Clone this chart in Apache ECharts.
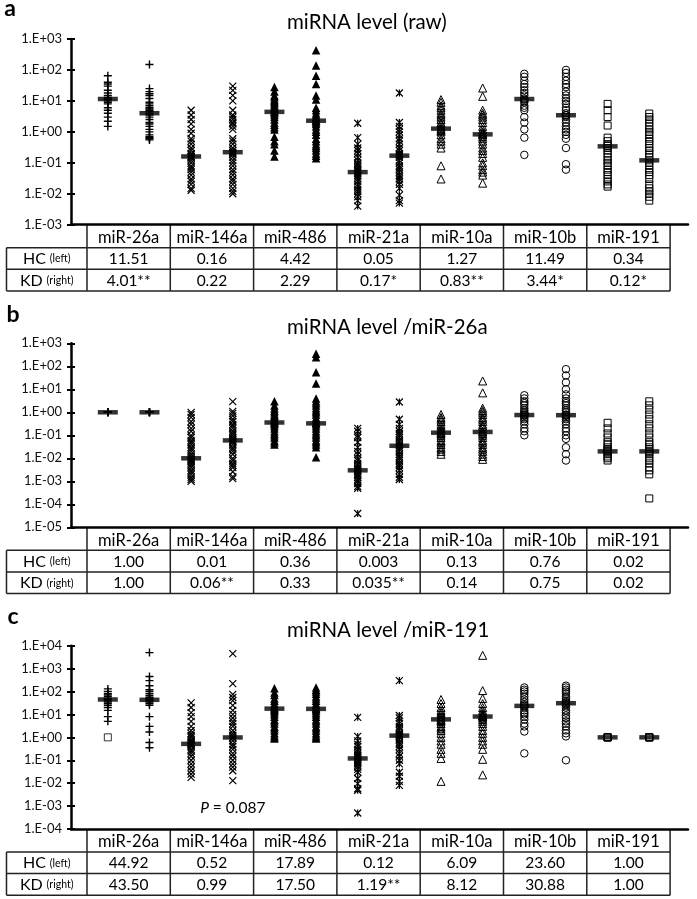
<!DOCTYPE html>
<html><head><meta charset="utf-8">
<script src="https://cdn.jsdelivr.net/npm/echarts@6/dist/echarts.min.js"></script>
<style>html,body{margin:0;padding:0;background:#fff}#c{width:697px;height:899px}</style>
</head><body><div id="c"></div>
<script>
const categories = ['miR-26a','miR-146a','miR-486','miR-21a','miR-10a','miR-10b','miR-191'];

// ---- panel a: raw ----
const raw_26a_HC = [65,40,35,30,22,18,15,13,12,11.5,11,10,9,8,6,5,4,3,2.2,1.5];
const raw_26a_KD = [150,25,20,17,15,12,9,8,7,6,5.5,5,4.5,4,3.8,3.5,3,2.5,2,1.8,1.5,1.2,1,0.8,0.7,0.65,0.6,0.55];
const raw_146a_HC = [5,3.5,2.5,1.8,1.2,0.9,0.6,0.5,0.4,0.3,0.25,0.2,0.18,0.16,0.15,0.14,0.12,0.1,0.08,0.07,0.06,0.05,0.04,0.03,0.025,0.02,0.015,0.013];
const raw_146a_KD = [30,22,15,10,5,3.5,3,2.5,2,1.8,1.5,1.2,0.6,0.5,0.4,0.3,0.25,0.22,0.2,0.18,0.15,0.12,0.1,0.08,0.06,0.05,0.04,0.03,0.025,0.02,0.015,0.012,0.01];
const raw_486_HC = [28,20,15,13,11,10,9,8,7,6,5.5,5,4.5,4.4,4,3.5,3,2.5,2,1.7,1.4,1.2,0.7,0.5,0.4,0.25,0.16];
const raw_486_KD = [430,140,65,35,15,11,6,5,4,3.5,3,2.8,2.5,2.3,2.2,2,1.8,1.5,1.2,1,0.8,0.6,0.5,0.4,0.35,0.3,0.25,0.2,0.17,0.14];
const raw_21a_HC = [1.9,0.65,0.4,0.3,0.25,0.2,0.15,0.12,0.1,0.09,0.08,0.07,0.06,0.055,0.05,0.045,0.04,0.035,0.03,0.025,0.02,0.017,0.014,0.012,0.01,0.008,0.006,0.004];
const raw_21a_KD = [18,2,1.5,1.2,1,0.8,0.6,0.5,0.4,0.3,0.25,0.2,0.18,0.17,0.15,0.12,0.1,0.08,0.07,0.06,0.05,0.04,0.035,0.03,0.025,0.02,0.015,0.009,0.006,0.005];
const raw_10a_HC = [11,9,7,6,5,4,3.5,3,2.5,2,1.8,1.5,1.3,1.2,1.1,1,0.8,0.6,0.5,0.4,0.3,0.08,0.03];
const raw_10a_KD = [26,14,5,4,3.5,3,2.5,2,1.5,1.2,1,0.9,0.85,0.8,0.7,0.6,0.5,0.4,0.3,0.25,0.2,0.15,0.1,0.08,0.06,0.05,0.04,0.022];
const raw_10b_HC = [75,60,45,35,28,22,18,15,12,11,10,9,7,6,5,3,2,1.2,0.65,0.18];
const raw_10b_KD = [100,80,60,45,35,28,20,15,12,10,8,6,5,4,3.5,3.4,3,2.5,2,1.5,1.2,1,0.8,0.6,0.3,0.09,0.06];
const raw_191_HC = [8,5,3,1.6,0.65,0.5,0.4,0.35,0.3,0.25,0.2,0.15,0.12,0.1,0.08,0.06,0.05,0.04,0.03,0.025,0.02,0.017];
const raw_191_KD = [3.9,3,2.5,2,1.5,1.2,1,0.8,0.6,0.5,0.4,0.3,0.25,0.2,0.15,0.12,0.1,0.08,0.06,0.05,0.04,0.03,0.02,0.015,0.012,0.01,0.008,0.006];
const raw_medHC = [11.51,0.16,4.42,0.05,1.27,11.49,0.34];
const raw_medKD = [4.01,0.22,2.29,0.17,0.83,3.44,0.12];
const raw_txtHC = ['11.51','0.16','4.42','0.05','1.27','11.49','0.34'];
const raw_txtKD = ['4.01**','0.22','2.29','0.17*','0.83**','3.44*','0.12*'];

// ---- panel b: /miR-26a ----
const n26_26a_HC = [1,1,1,1,1];
const n26_26a_KD = [1,1,1,1,1];
const n26_146a_HC = [1,0.8,0.6,0.4,0.3,0.2,0.15,0.1,0.08,0.06,0.05,0.04,0.03,0.025,0.02,0.015,0.012,0.01,0.009,0.008,0.007,0.006,0.005,0.004,0.003,0.0025,0.002,0.0015,0.0012,0.001];
const n26_146a_KD = [2.9,1.1,0.9,0.7,0.5,0.4,0.3,0.25,0.2,0.15,0.12,0.1,0.08,0.07,0.06,0.055,0.05,0.04,0.03,0.025,0.02,0.015,0.01,0.008,0.006,0.005,0.004,0.0026,0.0016,0.0013];
const n26_486_HC = [3,2,1.5,1.2,1,0.8,0.7,0.6,0.5,0.45,0.4,0.36,0.33,0.3,0.25,0.2,0.15,0.12,0.1,0.08,0.06,0.05,0.04];
const n26_486_KD = [350,250,55,18,4,3,2.5,2,1.5,1.2,1,0.8,0.6,0.5,0.4,0.35,0.33,0.3,0.25,0.2,0.15,0.12,0.1,0.08,0.06,0.05,0.04,0.03,0.011];
const n26_21a_HC = [0.2,0.15,0.1,0.08,0.05,0.03,0.02,0.015,0.01,0.008,0.006,0.005,0.004,0.0035,0.003,0.0028,0.0025,0.002,0.0018,0.0015,0.0012,0.001,0.0008,0.0006,0.0005,0.00004];
const n26_21a_KD = [2.8,0.5,0.3,0.2,0.15,0.12,0.1,0.08,0.06,0.05,0.04,0.035,0.03,0.025,0.02,0.015,0.012,0.01,0.008,0.006,0.005,0.004,0.003,0.002,0.0015,0.0012];
const n26_10a_HC = [0.8,0.6,0.5,0.4,0.3,0.25,0.2,0.17,0.15,0.13,0.12,0.1,0.08,0.06,0.05,0.04,0.03,0.025,0.02,0.015];
const n26_10a_KD = [23,7,1.5,1.2,1,0.8,0.6,0.5,0.4,0.3,0.25,0.2,0.15,0.14,0.12,0.1,0.08,0.06,0.05,0.04,0.03,0.025,0.02,0.015,0.012,0.009];
const n26_10b_HC = [5.5,4,3,2.5,2,1.5,1.2,1,0.9,0.8,0.76,0.7,0.6,0.5,0.4,0.3,0.2,0.15,0.1];
const n26_10b_KD = [75,40,20,10,6,4,3,2.5,2,1.5,1.2,1,0.8,0.75,0.7,0.6,0.5,0.4,0.3,0.2,0.15,0.1,0.07,0.03,0.015,0.008];
const n26_191_HC = [0.35,0.2,0.12,0.08,0.05,0.04,0.03,0.025,0.022,0.02,0.018,0.015,0.012,0.01,0.008];
const n26_191_KD = [3,2,1.3,0.8,0.5,0.3,0.2,0.12,0.08,0.05,0.04,0.03,0.025,0.02,0.018,0.015,0.01,0.008,0.006,0.004,0.003,0.002,0.00018];
const n26_medHC = [1.00,0.01,0.36,0.003,0.13,0.76,0.02];
const n26_medKD = [1.00,0.06,0.33,0.035,0.14,0.75,0.02];
const n26_txtHC = ['1.00','0.01','0.36','0.003','0.13','0.76','0.02'];
const n26_txtKD = ['1.00','0.06**','0.33','0.035**','0.14','0.75','0.02'];

// ---- panel c: /miR-191 ----
const n191_26a_HC = [130,100,80,70,60,50,45,40,35,30,25,20,15,8,5];
const n191_26a_HC_square = [1.0];
const n191_26a_KD = [5000,450,300,180,120,100,80,65,55,50,45,43,40,35,30,25,8,3,1.7,0.6,0.35];
const n191_146a_HC = [32,20,12,8,5,3,2,1.5,1.2,1,0.8,0.7,0.6,0.55,0.5,0.45,0.4,0.3,0.25,0.2,0.15,0.1,0.07,0.05,0.035,0.025,0.018];
const n191_146a_KD = [4500,220,75,55,40,25,15,10,7,5,4,3,2,1.5,1.2,1,0.9,0.7,0.5,0.4,0.3,0.2,0.15,0.1,0.07,0.05,0.035,0.013];
const n191_486_HC = [140,90,70,50,40,30,25,20,18,16,14,12,10,8,6,5,4,3,2.5,2,1.5,1.2,1,0.9];
const n191_486_KD = [150,120,100,80,60,50,40,30,25,20,18,17,15,12,10,8,6,5,4,3,2.5,2,1.5,1.2,1,0.9];
const n191_21a_HC = [7.5,1.1,0.7,0.5,0.4,0.3,0.25,0.2,0.17,0.15,0.13,0.12,0.11,0.1,0.09,0.08,0.07,0.06,0.05,0.04,0.03,0.016,0.0095,0.0057,0.0049,0.0005];
const n191_21a_KD = [300,9,7,5,4,3,2.5,2,1.5,1.3,1.2,1.1,1,0.8,0.6,0.5,0.4,0.3,0.2,0.15,0.1,0.07,0.03,0.02,0.012,0.008];
const n191_10a_HC = [45,30,20,15,12,10,8,7,6,5.5,5,4,3,2.5,2,1.5,1,0.7,0.5,0.3,0.2,0.12,0.012];
const n191_10a_KD = [3800,110,50,30,20,15,12,10,9,8.5,8,7,6,5,4,3,2,1.5,1,0.7,0.5,0.3,0.11,0.023];
const n191_10b_HC = [150,120,100,80,60,45,35,28,25,23,20,15,12,10,8,6,4,3,1.8,0.2];
const n191_10b_KD = [180,150,120,100,80,60,50,40,35,31,28,25,20,15,12,9,7,5,4,3,2,1.5,1.1,0.1];
const n191_191_HC = [1,1,1,1];
const n191_191_KD = [1,1,1,1];
const n191_medHC = [44.92,0.52,17.89,0.12,6.09,23.60,1.00];
const n191_medKD = [43.50,0.99,17.50,1.19,8.12,30.88,1.00];
const n191_txtHC = ['44.92','0.52','17.89','0.12','6.09','23.60','1.00'];
const n191_txtKD = ['43.50','0.99','17.50','1.19**','8.12','30.88','1.00'];

const panelLetters = ['a','b','c'];
const panelTitles = ['miRNA level (raw)','miRNA level /miR-26a','miRNA level /miR-191'];
const yMins = [1e-3, 1e-5, 1e-4];
const yMaxs = [1e3, 1e3, 1e4];

// ---- layout / style ----
const FONT = 'Lato, "Open Sans", sans-serif';
const gridBoxes = [
  {top: 39, height: 185.7},
  {top: 343.3, height: 184},
  {top: 645.7, height: 183.3}
];
const letterY = [9, 314.5, 617];
const titleY = [22, 327, 630.5];
const X_MIN = 0.116, X_MAX = 14.93;
const markers = [
  {symbol: 'path://M5 0V10M0 5H10', size: 8, fill: 'none', bw: 1.4},
  {symbol: 'path://M0 0L10 10M10 0L0 10', size: 7, fill: 'none', bw: 1.2},
  {symbol: 'triangle', size: 8.5, fill: '#000', bw: 0},
  {symbol: 'path://M0 0L10 10M10 0L0 10M5 0V10', size: 7, fill: 'none', bw: 1.2},
  {symbol: 'triangle', size: 8, fill: 'none', bw: 1},
  {symbol: 'circle', size: 7.5, fill: 'none', bw: 1},
  {symbol: 'rect', size: 7, fill: 'none', bw: 1}
];

const panels = [
  {groups: [[raw_26a_HC,raw_26a_KD],[raw_146a_HC,raw_146a_KD],[raw_486_HC,raw_486_KD],[raw_21a_HC,raw_21a_KD],[raw_10a_HC,raw_10a_KD],[raw_10b_HC,raw_10b_KD],[raw_191_HC,raw_191_KD]],
   medHC: raw_medHC, medKD: raw_medKD, txtHC: raw_txtHC, txtKD: raw_txtKD},
  {groups: [[n26_26a_HC,n26_26a_KD],[n26_146a_HC,n26_146a_KD],[n26_486_HC,n26_486_KD],[n26_21a_HC,n26_21a_KD],[n26_10a_HC,n26_10a_KD],[n26_10b_HC,n26_10b_KD],[n26_191_HC,n26_191_KD]],
   medHC: n26_medHC, medKD: n26_medKD, txtHC: n26_txtHC, txtKD: n26_txtKD},
  {groups: [[n191_26a_HC,n191_26a_KD],[n191_146a_HC,n191_146a_KD],[n191_486_HC,n191_486_KD],[n191_21a_HC,n191_21a_KD],[n191_10a_HC,n191_10a_KD],[n191_10b_HC,n191_10b_KD],[n191_191_HC,n191_191_KD]],
   medHC: n191_medHC, medKD: n191_medKD, txtHC: n191_txtHC, txtKD: n191_txtKD}
];

function expLabel(v) {
  const e = Math.round(Math.log10(v));
  const a = Math.abs(e);
  return '1.E' + (e < 0 ? '-' : '+') + (a < 10 ? '0' : '') + a;
}

const grids = [], xAxes = [], yAxes = [], series = [];
panels.forEach((p, gi) => {
  const decades = Math.round(Math.log10(yMaxs[gi] / yMins[gi]));
  grids.push({left: 71, width: 617, top: gridBoxes[gi].top, height: gridBoxes[gi].height, containLabel: false, outerBoundsMode: 'none'});
  xAxes.push({type: 'value', gridIndex: gi, min: X_MIN, max: X_MAX,
    axisLine: {show: true, onZero: false, lineStyle: {color: '#000', width: 2.5}},
    axisTick: {show: false}, axisLabel: {show: false}, splitLine: {show: false}});
  const yBase = {type: 'log', logBase: 10, gridIndex: gi, min: yMins[gi], max: yMaxs[gi], splitNumber: decades,
    splitLine: {show: false}, position: 'left', offset: 0};
  yAxes.push(Object.assign({}, yBase, {
    axisLine: {show: true, onZero: false, lineStyle: {color: '#000', width: 2.5}},
    axisTick: {show: true, length: 4, lineStyle: {color: '#000', width: 2}},
    axisLabel: {show: true, fontSize: 13, fontFamily: FONT, color: '#111', margin: 9, formatter: expLabel}
  }));
  yAxes.push(Object.assign({}, yBase, {
    axisLine: {show: false, onZero: false},
    axisTick: {show: true, inside: true, length: 4, lineStyle: {color: '#000', width: 2}},
    axisLabel: {show: false}
  }));
  p.groups.forEach((g, k) => {
    const m = markers[k];
    const data = g[0].map(v => [2 * k + 1, v]).concat(g[1].map(v => [2 * k + 2, v]));
    series.push({type: 'scatter', xAxisIndex: gi, yAxisIndex: 2 * gi, symbol: m.symbol, symbolSize: m.size,
      itemStyle: {color: m.fill, borderColor: '#000', borderWidth: m.bw, opacity: 1},
      data: data, z: 2, silent: true, animation: false});
  });
  if (gi === 2) {
    series.push({type: 'scatter', xAxisIndex: gi, yAxisIndex: 2 * gi, symbol: 'rect', symbolSize: 7,
      itemStyle: {color: 'none', borderColor: '#000', borderWidth: 1},
      data: n191_26a_HC_square.map(v => [1, v]), z: 2, silent: true, animation: false});
  }
  const med = p.medHC.map((v, k) => [2 * k + 1, v]).concat(p.medKD.map((v, k) => [2 * k + 2, v]));
  series.push({type: 'scatter', xAxisIndex: gi, yAxisIndex: 2 * gi, symbol: 'rect', symbolSize: [20, 4.5],
    itemStyle: {color: '#000'}, data: med, z: 5, silent: true, animation: false});
});

const chart = echarts.init(document.getElementById('c'), null, {renderer: 'canvas'});
chart.setOption({animation: false, backgroundColor: '#fff', grid: grids, xAxis: xAxes, yAxis: yAxes, series: series});

// ---- tables & texts ----
const HEADER_H = 23, ROW_H = 21.6, LABEL_W = 80.5;
const LINE = {stroke: '#222', lineWidth: 1.5};
const graphics = [];
function line(x1, y1, x2, y2, lw) {
  graphics.push({type: 'line', shape: {x1, y1, x2, y2}, style: Object.assign({}, LINE, lw ? {lineWidth: lw} : {}), silent: true});
}
function text(x, y, t, opt) {
  graphics.push({type: 'text', x, y, silent: true, style: Object.assign({text: t, fill: '#000', fontFamily: FONT, fontSize: 15, align: 'center', verticalAlign: 'middle'}, opt || {})});
}
panels.forEach((p, gi) => {
  const yB = chart.convertToPixel({gridIndex: gi}, [0.5, yMins[gi]])[1];
  const xs = [];
  for (let k = 0; k <= 7; k++) xs.push(chart.convertToPixel({gridIndex: gi}, [0.5 + 2 * k, yMins[gi]])[0]);
  const left = xs[0] - LABEL_W;
  const r1 = yB + HEADER_H, r2 = r1 + ROW_H, r3 = r2 + ROW_H;
  xs.forEach(x => line(x, yB, x, r3));
  line(left, r1, left, r3);
  [r1, r2, r3].forEach(y => line(left, y, xs[7], y));
  categories.forEach((c, k) => {
    const cx = (xs[k] + xs[k + 1]) / 2;
    text(cx, (yB + r1) / 2 + 1.5, c, {fontSize: 16.5});
    text(cx, (r1 + r2) / 2 + 0.5, p.txtHC[k], {fontSize: 15.5});
    text(cx, (r2 + r3) / 2 + 0.5, p.txtKD[k], {fontSize: 15.5});
  });
  const lx = (left + xs[0]) / 2;
  text(lx, (r1 + r2) / 2 + 0.5, '{a|HC} {b|(left)}', {rich: {a: {fontSize: 16, fontFamily: FONT, fill: '#000'}, b: {fontSize: 10.5, fontFamily: FONT, fill: '#000'}}});
  text(lx, (r2 + r3) / 2 + 0.5, '{a|KD} {b|(right)}', {rich: {a: {fontSize: 16, fontFamily: FONT, fill: '#000'}, b: {fontSize: 10.5, fontFamily: FONT, fill: '#000'}}});
  text(panelLetters[gi] === 'a' ? 10 : 13, letterY[gi], panelLetters[gi], {fontSize: 23, fontWeight: 'bold', fill: '#000'});
  text(287, titleY[gi], panelTitles[gi], {fontSize: 20.5, align: 'left'});
});
// P-value annotation in panel c
const pPos = chart.convertToPixel({gridIndex: 2}, [4, 0.00085]);
text(pPos[0], pPos[1], '{i|P}{n| = 0.087}', {rich: {i: {fontSize: 15.5, fontStyle: 'italic', fontFamily: FONT, fill: '#000'}, n: {fontSize: 15.5, fontFamily: FONT, fill: '#000'}}});

chart.setOption({graphic: graphics});
</script>
</body></html>
